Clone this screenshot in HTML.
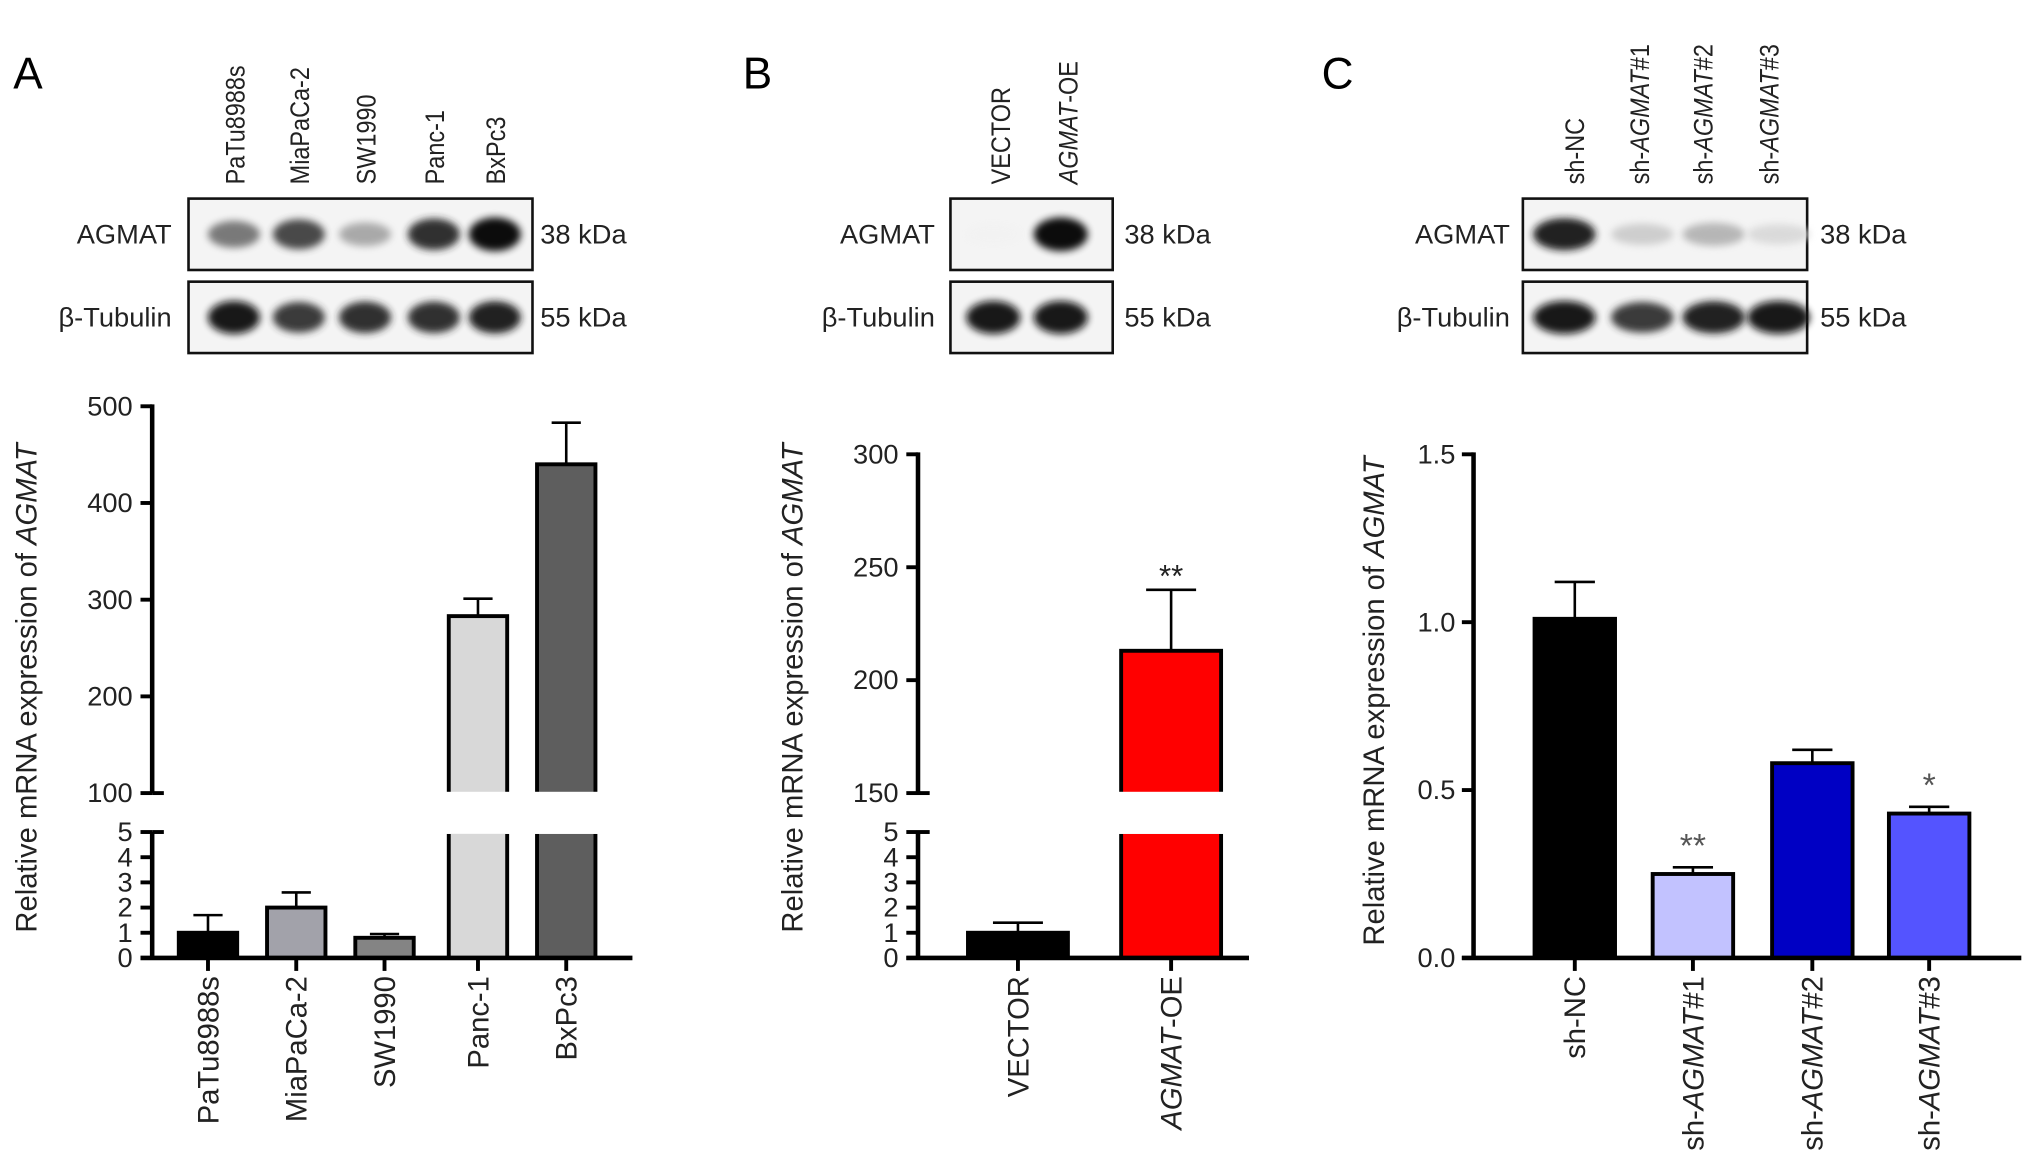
<!DOCTYPE html>
<html><head><meta charset="utf-8"><style>
html,body{margin:0;padding:0;background:#fff;}
svg{display:block;font-family:"Liberation Sans",sans-serif;}
</style></head><body>
<svg id="fig" width="2032" height="1176" viewBox="0 0 1565 906" xmlns="http://www.w3.org/2000/svg">
<defs>
<filter id="blur2" x="-50%" y="-100%" width="200%" height="300%"><feGaussianBlur stdDeviation="2.8"/></filter>
</defs>
<g id="root"></g>
</svg>
<script>
// ---- Panel A data ----
const catsA = ["PaTu8988s","MiaPaCa-2","SW1990","Panc-1","BxPc3"];
const valsA = [1.0, 2.0, 0.8, 283, 440];
const errA = [1.7, 2.6, 0.95, 301, 483];
const colorsA = ["#000000","#a2a2aa","#848484","#d8d8d8","#5e5e5e"];
const ticksUpperA = [100,200,300,400,500];
const ticksLowerA = [0,1,2,3,4,5];
const bandAgmatA = [0.55,0.75,0.35,0.85,1.0];
const bandTubA = [0.95,0.8,0.85,0.85,0.9];
// ---- Panel B data ----
const catsB = ["VECTOR","AGMAT-OE"];
const valsB = [1.0, 213];
const errB = [1.4, 240];
const colorsB = ["#000000","#ff0000"];
const ticksUpperB = [150,200,250,300];
const ticksLowerB = [0,1,2,3,4,5];
const bandAgmatB = [0.05,1.0];
const bandTubB = [0.95,0.95];
// ---- Panel C data ----
const catsC = ["sh-NC","sh-AGMAT#1","sh-AGMAT#2","sh-AGMAT#3"];
const valsC = [1.01, 0.25, 0.58, 0.43];
const errC = [1.12, 0.27, 0.62, 0.45];
const colorsC = ["#000000","#c2c2ff","#0000c4","#5454ff"];
const ticksC = [0.0,0.5,1.0,1.5];
const tickLabelsC = ["0.0","0.5","1.0","1.5"];
const starsC = ["","**","","*"];
const bandAgmatC = [0.9,0.2,0.3,0.15];
const bandTubC = [0.95,0.8,0.9,0.95];

const NS="http://www.w3.org/2000/svg";
const root=document.getElementById('root');
function el(tag,attrs,parent,text){const e=document.createElementNS(NS,tag);for(const k in attrs)e.setAttribute(k,attrs[k]);if(text!==undefined)e.textContent=text;(parent||root).appendChild(e);return e;}
function label(parent,x,y,txt,opts){
  const t=el('text',Object.assign({x:x,y:y,'font-size':20,fill:'#222'},opts||{}),parent);
  const m=txt.match(/^(.*?)(AGMAT)(.*)$/);
  if(m&&opts&&opts.ital){el('tspan',{},t,m[1]);el('tspan',{'font-style':'italic'},t,m[2]);el('tspan',{},t,m[3]);}
  else t.textContent=txt;
  return t;
}
function line(p,x1,y1,x2,y2,w){return el('line',{x1:x1,y1:y1,x2:x2,y2:y2,stroke:'#000','stroke-width':w||3},p);}

function blots(name,x0,x1,centers,agm,tub,labelX,kdaX){
  const g=el('g',{});
  
  
  const rows=[[153,55,agm,'AGMAT','38 kDa'],[217,55,tub,'β-Tubulin','55 kDa']];
  rows.forEach(([y,h,vals,lab,kda])=>{
    el('rect',{x:x0,y:y,width:x1-x0,height:h,fill:'#f4f4f4',stroke:'#111','stroke-width':2},g);
    const bw=(centers.length>1?(centers[1]-centers[0]):60)*0.8;
    centers.forEach((c,i)=>{
      const v=vals[i];
      const gr=Math.round(255*(1-v));
      el('ellipse',{cx:c,cy:y+h/2,rx:bw/2,ry:7+6*v,fill:`rgb(${gr},${gr},${gr})`,filter:'url(#blur2)',opacity:0.95},g);
    });
    const t1=label(g,labelX,y+h/2+7,lab,{'text-anchor':'end','font-size':21});
    
    
    const t2=label(g,kdaX,y+h/2+7,kda,{'font-size':21});
    
    
  });
  return g;
}
function topLabels(cats,centers){
  cats.forEach((c,i)=>{
    const t=label(root,0,0,c,{'font-size':21,ital:true,transform:`translate(${centers[i]+8},142) rotate(-90) scale(0.86,1)`});
    
    
  });
}
function xLabels(cats,centers){
  cats.forEach((c,i)=>{
    const t=label(root,0,0,c,{'font-size':22.5,ital:true,'text-anchor':'end',transform:`translate(${centers[i]+8},752) rotate(-90)`});
    
    
  });
}
function yTitle(x,y){
  const t=label(root,0,0,'Relative mRNA expression of AGMAT',{'font-size':22.5,ital:true,'text-anchor':'middle',transform:`translate(${x},${y}) rotate(-90)`});
  
  
}
function panelLetter(x,L){
  const t=el('text',{x:x,y:68,'font-size':34,fill:'#000'},root,L);
  
  
}

function brokenChart(name,ax,xEnd,uTop,uBot,uTicks,lTicks,cats,vals,errs,cols,centers,bw){
  const uMin=uTicks[0],uMax=uTicks[uTicks.length-1];
  const lTop=641,lBot=738,lMax=lTicks[lTicks.length-1];
  const yU=v=>uBot-(v-uMin)/(uMax-uMin)*(uBot-uTop);
  const yL=v=>lBot-v/lMax*(lBot-lTop);
  const g=el('g',{});
  
  
  vals.forEach((v,i)=>{
    const x=centers[i]-bw/2;
    if(v>lMax){
      const b1=el('rect',{x:x,y:lTop,width:bw,height:lBot-lTop,fill:cols[i],stroke:'#000','stroke-width':3},g);
      
      
      const yt=yU(v);
      const b2=el('rect',{x:x,y:yt,width:bw,height:uBot-yt+2,fill:cols[i],stroke:'#000','stroke-width':3},g);
      
      
      el('rect',{x:x-3,y:lTop-3,width:bw+6,height:4.5,fill:'#fff'},g);
      el('rect',{x:x-3,y:uBot-1,width:bw+6,height:6,fill:'#fff'},g);
      const ey=yU(errs[i]);
      line(g,centers[i],yt,centers[i],ey,2);line(g,centers[i]-bw/4,ey,centers[i]+bw/4,ey,2);
    } else {
      const yt=yL(v);
      const b=el('rect',{x:x,y:yt,width:bw,height:lBot-yt,fill:cols[i],stroke:'#000','stroke-width':3},g);
      
      
      const ey=yL(errs[i]);
      line(g,centers[i],yt,centers[i],ey,2);line(g,centers[i]-bw/4,ey,centers[i]+bw/4,ey,2);
    }
  });
  const axg=el('g',{},g);
  
  
  line(axg,ax,uTop-1.5,ax,uBot,3.5);
  line(axg,ax,lTop,ax,lBot,3.5);
  uTicks.forEach(t=>{const y=yU(t);line(axg,ax-9,y,ax,y,3);if(t===uMin)line(axg,ax,y,ax+9,y,3);
    el('text',{x:ax-15,y:y+7,'text-anchor':'end','font-size':21,fill:'#222'},axg,String(t));});
  lTicks.forEach(t=>{const y=yL(t);line(axg,ax-9,y,ax,y,3);if(t===lMax)line(axg,ax,y,ax+9,y,3);
    el('text',{x:ax-15,y:y+7,'text-anchor':'end','font-size':21,fill:'#222'},axg,String(t));});
  const xg=el('g',{},g);
  
  
  line(xg,ax-9,lBot,xEnd,lBot,3.5);
  centers.forEach(c=>line(xg,c,lBot,c,lBot+10,3));
  return {yU,yL};
}

// ===== Panel A =====
panelLetter(10,'A');
const centersTopA=[180,230,281,334,381];
topLabels(catsA,centersTopA);
blots('panel-a',145,410,centersTopA,bandAgmatA,bandTubA,132,416);
const centersA=[160,228,296,368,436];
brokenChart('panel-a',117,487,313,611,ticksUpperA,ticksLowerA,catsA,valsA,errA,colorsA,centersA,45);
xLabels(catsA,centersA);
yTitle(28,530);

// ===== Panel B =====
panelLetter(572,'B');
const centersTopB=[770,822];
topLabels(catsB,centersTopB);
blots('panel-b',732,857,[765,817],bandAgmatB,bandTubB,720,866);
const centersB=[784,902];
brokenChart('panel-b',707,962,350,611,ticksUpperB,ticksLowerB,catsB,valsB,errB,colorsB,centersB,77);
xLabels(catsB,centersB);
yTitle(618,530);
{const t=el('text',{x:902,y:452,'text-anchor':'middle','font-size':24,fill:'#222'},root,'**');

}

// ===== Panel C =====
panelLetter(1018,'C');
const centersTopC=[1212,1262,1311,1362];
topLabels(catsC,centersTopC);
blots('panel-c',1173,1392,[1205,1265,1320,1370],bandAgmatC,bandTubC,1163,1402);
const centersC=[1213,1304,1396,1486];
{
  const ax=1135,yTop=350,yBot=738,max=1.5;
  const y=v=>yBot-v/max*(yBot-yTop);
  const bw=62;
  const g=el('g',{});
  
  
  valsC.forEach((v,i)=>{
    const b=el('rect',{x:centersC[i]-bw/2,y:y(v),width:bw,height:yBot-y(v),fill:colorsC[i],stroke:'#000','stroke-width':3},g);
    
    
    const ey=y(errC[i]);
    line(g,centersC[i],y(v),centersC[i],ey,2);line(g,centersC[i]-bw/4,ey,centersC[i]+bw/4,ey,2);
    if(starsC[i]){
      const s=el('text',{x:centersC[i],y:ey-8,'text-anchor':'middle','font-size':26,fill:'#555'},g,starsC[i]);
      
      
    }
  });
  const axg=el('g',{},g);
  
  
  line(axg,ax,yTop-1.5,ax,yBot,3.5);
  ticksC.forEach((t,i)=>{const yy=y(t);line(axg,ax-9,yy,ax,yy,3);
    el('text',{x:ax-14,y:yy+7,'text-anchor':'end','font-size':21,fill:'#222'},axg,tickLabelsC[i]);});
  const xg=el('g',{},g);
  
  
  line(xg,ax-9,yBot,1557,yBot,3.5);
  centersC.forEach(c=>line(xg,c,yBot,c,yBot+10,3));
}
xLabels(catsC,centersC);
yTitle(1066,540);
</script>
</body></html>
